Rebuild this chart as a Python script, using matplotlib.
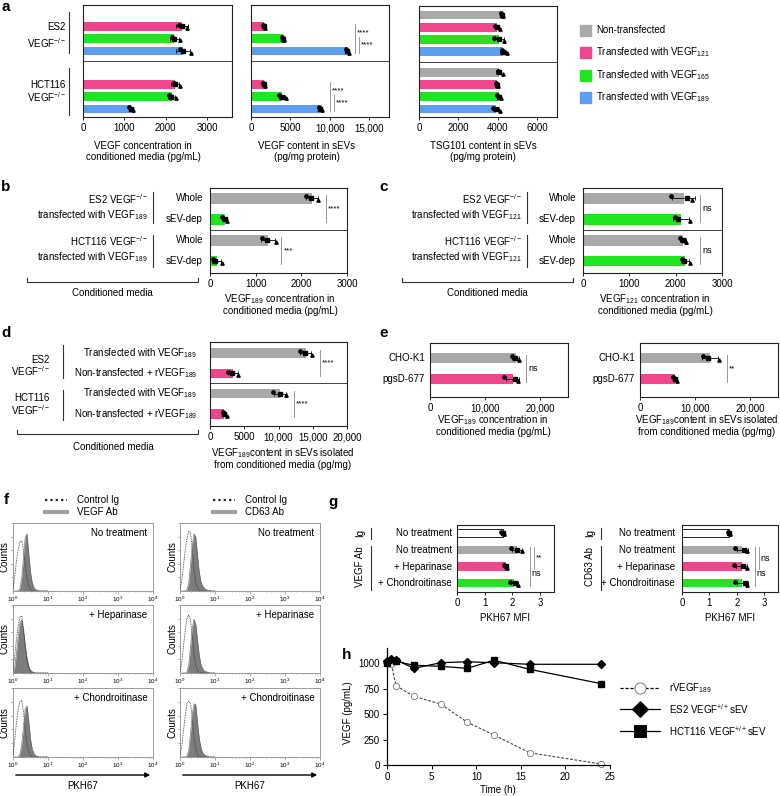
import numpy as np
import matplotlib
matplotlib.use("Agg")
import matplotlib.pyplot as plt
from matplotlib.lines import Line2D
from matplotlib.patches import Rectangle, FancyArrowPatch

plt.rcParams['font.family'] = ['Liberation Sans', 'DejaVu Sans']
plt.rcParams['mathtext.fontset'] = 'custom'
plt.rcParams['mathtext.rm'] = 'Liberation Sans'
plt.rcParams['mathtext.it'] = 'Liberation Sans:italic'
plt.rcParams['mathtext.bf'] = 'Liberation Sans:bold'
plt.rcParams['font.size'] = 7

GRAY = '#a9a9a9'
PINK = '#f0468e'
GREEN = '#1fe61f'
BLUE = '#5c9ff0'

# ---------------- data ----------------
# panel a (rows per cell line: non-transfected, VEGF121, VEGF165, VEGF189)
a_groups = ["ES2", "HCT116"]
a_series = ["Non-transfected", "Transfected with VEGF$_{121}$",
            "Transfected with VEGF$_{165}$", "Transfected with VEGF$_{189}$"]
a1_mean = [np.nan, 2390, 2200, 2420, np.nan, 2230, 2140, 1150]
a1_sd = [0, 140, 110, 170, 0, 100, 90, 50]
a1_pts = [[], [2330, 2390, 2520], [2150, 2190, 2350], [2350, 2420, 2600],
          [], [2190, 2230, 2350], [2080, 2120, 2240], [1100, 1150, 1210]]
a2_mean = [np.nan, 1650, 4050, 12200, np.nan, 1650, 3950, 8800]
a2_sd = [0, 100, 120, 200, 0, 100, 350, 150]
a2_pts = [[], [1550, 1650, 1750], [3950, 4050, 4200], [12000, 12200, 12400],
          [], [1550, 1650, 1750], [3600, 3950, 4400], [8650, 8800, 8950]]
a2_sig = [(13150, 1, 3, 0.5, '****'), (13650, 2, 3, 0.5, '****'),
          (9970, 5, 7, 0.5, '****'), (10480, 6, 7, 0.5, '****')]
a3_mean = [4200, 3950, 4050, 4250, 4050, 3950, 4050, 3900]
a3_sd = [40, 100, 250, 140, 120, 50, 100, 150]
a3_pts = [[4150, 4200, 4250], [3880, 3950, 4120], [3780, 4070, 4320], [4200, 4250, 4450],
          [3990, 4050, 4250], [3900, 3950, 4000], [3950, 4050, 4150], [3750, 3900, 4100]]

# panel b / c
bc_rows = ["Whole", "sEV-dep", "Whole", "sEV-dep"]
b_mean = [2230, 320, 1270, 145]
b_sd = [130, 50, 160, 95]
b_pts = [[2110, 2220, 2360], [255, 330, 365], [1130, 1240, 1450], [75, 110, 255]]
b_sig = [(2545, 0, 1, 0.5, '****'), (1560, 2, 3, 0.5, '***')]
c_mean = [2170, 2110, 2160, 2200]
c_sd = [240, 170, 60, 80]
c_pts = [[1910, 2240, 2350], [1990, 2040, 2310], [2100, 2150, 2230], [2130, 2170, 2300]]
c_sig = [(2530, 0, 1, 0.5, 'ns'), (2530, 2, 3, 0.5, 'ns')]

# panel d
d_rows = ["Transfected with VEGF$_{189}$", "Non-transfected + rVEGF$_{189}$",
          "Transfected with VEGF$_{189}$", "Non-transfected + rVEGF$_{189}$"]
d_mean = [13950, 3350, 10200, 2100]
d_sd = [800, 700, 900, 200]
d_pts = [[13170, 13900, 14880], [2680, 3170, 4150], [9270, 10240, 11120], [1850, 2050, 2440]]
d_sig = [(16000, 0, 1, 0.5, '****'), (12200, 2, 3, 0.5, '****')]

# panel e
e_rows = ["CHO-K1", "pgsD-677"]
e1_mean = [15500, 14950]
e1_sd = [600, 1100]
e1_pts = [[14800, 15400, 16120], [13430, 15400, 16000]]
e1_sig = [(17430, 0, 1, 0.5, 'ns')]
e2_mean = [12700, 6300]
e2_sd = [1400, 350]
e2_pts = [[11460, 12240, 14330], [5970, 6270, 6750]]
e2_sig = [(15700, 0, 1, 0.5, '**')]

# panel f: histogram counts on a log10(PKH67) grid
hist_log = [0.00, 0.05, 0.10, 0.15, 0.20, 0.25, 0.30, 0.35, 0.40, 0.45, 0.50,
            0.55, 0.60, 0.65, 0.70, 0.75, 0.80, 0.85, 0.90, 0.95, 1.00]
f_treat = ["No treatment", "+ Heparinase", "+ Chondroitinase"]
vegf_ctrl = [
    [0.03, 0.22, 0.45, 0.62, 0.72, 0.74, 0.60, 0.38, 0.18, 0.07, 0.02, 0, 0, 0, 0, 0, 0, 0, 0, 0, 0],
    [0.03, 0.25, 0.50, 0.70, 0.82, 0.84, 0.66, 0.40, 0.18, 0.07, 0.02, 0, 0, 0, 0, 0, 0, 0, 0, 0, 0],
    [0.03, 0.25, 0.50, 0.70, 0.80, 0.82, 0.65, 0.40, 0.18, 0.07, 0.02, 0, 0, 0, 0, 0, 0, 0, 0, 0, 0]]
vegf_ab = [
    [0, 0, 0, 0, 0.04, 0.20, 0.50, 0.80, 0.84, 0.55, 0.28, 0.12, 0.05, 0.02, 0.01, 0, 0, 0, 0, 0, 0],
    [0.01, 0.08, 0.30, 0.55, 0.74, 0.78, 0.62, 0.40, 0.22, 0.10, 0.04, 0.02, 0.01, 0, 0, 0, 0, 0, 0, 0, 0],
    [0, 0, 0, 0, 0.04, 0.18, 0.45, 0.70, 0.74, 0.52, 0.26, 0.11, 0.05, 0.02, 0.01, 0, 0, 0, 0, 0, 0]]
cd63_ctrl = [
    [0.02, 0.15, 0.38, 0.60, 0.78, 0.88, 0.86, 0.62, 0.32, 0.13, 0.04, 0.01, 0, 0, 0, 0, 0, 0, 0, 0, 0],
    [0.02, 0.16, 0.40, 0.62, 0.80, 0.85, 0.78, 0.55, 0.28, 0.11, 0.03, 0.01, 0, 0, 0, 0, 0, 0, 0, 0, 0],
    [0.02, 0.15, 0.38, 0.60, 0.77, 0.81, 0.78, 0.56, 0.29, 0.11, 0.03, 0.01, 0, 0, 0, 0, 0, 0, 0, 0, 0]]
cd63_ab = [
    [0, 0, 0, 0, 0.02, 0.12, 0.38, 0.68, 0.84, 0.80, 0.52, 0.28, 0.13, 0.07, 0.04, 0.02, 0.01, 0.01, 0, 0, 0],
    [0, 0, 0, 0, 0.02, 0.12, 0.38, 0.66, 0.79, 0.72, 0.48, 0.26, 0.12, 0.06, 0.03, 0.02, 0.01, 0, 0, 0, 0],
    [0, 0, 0, 0, 0.02, 0.10, 0.34, 0.62, 0.77, 0.76, 0.50, 0.27, 0.13, 0.06, 0.03, 0.02, 0.01, 0, 0, 0, 0]]

# panel g
g_rows = ["No treatment", "No treatment", "+ Heparinase", "+ Chondroitinase"]
g1_mean = [1.65, 2.15, 1.75, 2.07]
g1_sd = [0.05, 0.18, 0.05, 0.13]
g1_pts = [[1.60, 1.65, 1.70], [1.96, 2.16, 2.35], [1.70, 1.75, 1.80], [1.92, 2.08, 2.20]]
g1_sig = [(2.77, 1, 2, 0.5, '**'), (2.62, 1, 3, 1.4, 'ns')]
g2_mean = [1.70, 2.20, 2.17, 2.20]
g2_sd = [0.04, 0.20, 0.20, 0.20]
g2_pts = [[1.66, 1.70, 1.75], [1.95, 2.26, 2.38], [1.90, 2.24, 2.36], [1.95, 2.28, 2.38]]
g2_sig = [(2.80, 1, 2, 0.5, 'ns'), (2.65, 1, 3, 1.4, 'ns')]

# panel h
h_t_r = [0, 0.5, 1, 3, 6, 9, 12, 16, 24]
h_v_r = [1000, 990, 780, 675, 600, 420, 295, 120, 10]
h_t_es2 = [0, 0.5, 1, 3, 6, 9, 12, 16, 24]
h_v_es2 = [1020, 1040, 1035, 950, 1005, 1015, 1005, 990, 990]
h_t_hct = [0, 1, 3, 6, 9, 12, 16, 24]
h_v_hct = [1000, 1020, 980, 970, 950, 1030, 940, 800]

# ---------------- figure ----------------
W, H = 780, 796
fig = plt.figure(figsize=(W / 100, H / 100), dpi=100)


def add_ax(l, t, r, b):
    return fig.add_axes([l / W, 1 - b / H, (r - l) / W, (b - t) / H])


def ftext(x, y, s, **kw):
    kw.setdefault('va', 'center')
    return fig.text(x / W, 1 - y / H, s, **kw)


def fline(xs, ys, **kw):
    kw.setdefault('color', '#333333')
    kw.setdefault('lw', 0.8)
    fig.add_artist(Line2D([x / W for x in xs], [1 - y / H for y in ys], **kw))


JIT = [-0.17, 0.0, 0.17]
MK = ['o', 's', '^']


def bar_panel(rect, pos, means, sds, pts, colors, xlim, xticks, xticklabels, ylim,
              bar_h, sigs=(), dividers=()):
    ax = add_ax(*rect)
    for p, m, s, pt, c in zip(pos, means, sds, pts, colors):
        if np.isnan(m):
            continue
        white = (c == 'white')
        ax.barh(p, m, height=bar_h, color=c, edgecolor='k' if white else 'none',
                linewidth=0.6 if white else 0, zorder=2)
        ax.errorbar(m, p, xerr=s, fmt='none', ecolor='k', elinewidth=0.6,
                    capsize=1.6, capthick=0.6, zorder=3)
        for k, v in enumerate(pt):
            ax.plot(v, p + JIT[k] * bar_h, marker=MK[k], ms=2.4, color='k', ls='none', zorder=4)
    for dv in dividers:
        ax.axhline(dv, color='#444444', lw=0.7, zorder=1)
    for x, r0, r1, off, txt in sigs:
        ax.plot([x, x], [pos[r0] - 0.15, pos[r1] + 0.15], color='#888888', lw=0.6)
        ax.annotate(txt, (x, pos[r0] + off), xytext=(1.5, 0), textcoords='offset points',
                    va='center', ha='left', fontsize=5.8 if '*' in txt else 6.5)
    ax.set_xlim(xlim)
    ax.set_ylim(ylim)
    ax.set_yticks([])
    ax.set_xticks(xticks, xticklabels)
    ax.tick_params(axis='x', length=2.5, width=0.6, pad=2, labelsize=7)
    for sp in ax.spines.values():
        sp.set_linewidth(0.8)
        sp.set_color('#222222')
    return ax


def letter(x, y, s):
    ftext(x, y, s, ha='center', fontsize=11, fontweight='bold')


# ---- panel a ----
a_pos = [0, 1, 2, 3, 4.7, 5.7, 6.7, 7.7]
a_col = [GRAY, PINK, GREEN, BLUE] * 2
a_ylim = (8.35, -0.73)
bar_panel((83, 5, 232, 117), a_pos, a1_mean, a1_sd, a1_pts, a_col, (0, 3600),
          [0, 1000, 2000, 3000], ['0', '1000', '2000', '3000'], a_ylim, 0.72, dividers=[3.85])
bar_panel((251, 5, 389, 117), a_pos, a2_mean, a2_sd, a2_pts, a_col, (0, 17500),
          [0, 5000, 10000, 15000], ['0', '5000', '10,000', '15,000'], a_ylim, 0.72,
          sigs=a2_sig, dividers=[3.85])
bar_panel((419, 6, 557, 117), a_pos, a3_mean, a3_sd, a3_pts, a_col, (0, 7000),
          [0, 2000, 4000, 6000], ['0', '2000', '4000', '6000'], a_ylim, 0.72, dividers=[3.85])
letter(6, 7, 'a')
ftext(66, 27, a_groups[0], ha='right')
ftext(66, 43, "VEGF$^{-/-}$", ha='right')
fline([69, 69], [12, 53])
ftext(66, 85, a_groups[1], ha='right')
ftext(66, 97, "VEGF$^{-/-}$", ha='right')
fline([69, 69], [68, 115])
for x, l1, l2 in [(143, "VEGF concentration in", "conditioned media (pg/mL)"),
                  (307, "VEGF content in sEVs", "(pg/mg protein)"),
                  (483, "TSG101 content in sEVs", "(pg/mg protein)")]:
    ftext(x, 146, l1, ha='center')
    ftext(x, 157, l2, ha='center')
for i, (lab, col) in enumerate(zip(a_series, [GRAY, PINK, GREEN, BLUE])):
    y = [30, 52, 75, 97][i]
    fig.add_artist(Rectangle((580 / W, 1 - (y + 5.5) / H), 11 / W, 11 / H, color=col,
                             transform=fig.transFigure))
    ftext(596, y, lab, ha='left')

# ---- panels b, c ----
bc_pos = [0, 1, 2, 3]
bc_ylim = (3.57, -0.48)
bar_panel((210, 188, 347, 273), bc_pos, b_mean, b_sd, b_pts, [GRAY, GREEN, GRAY, GREEN],
          (0, 3000), [0, 1000, 2000, 3000], ['0', '1000', '2000', '3000'], bc_ylim, 0.52,
          sigs=b_sig, dividers=[1.5])
bar_panel((583, 188, 722, 273), bc_pos, c_mean, c_sd, c_pts, [GRAY, GREEN, GRAY, GREEN],
          (0, 3000), [0, 1000, 2000, 3000], ['0', '1000', '2000', '3000'], bc_ylim, 0.52,
          sigs=c_sig, dividers=[1.5])
letter(6, 187, 'b')
letter(384, 187, 'c')
for x0, rl, gx, sub, bl, bx in [(0, 203, 148, '189', (27, 198), 112),
                                (373, 576, 522, '121', (402, 573), 487)]:
    for lab, y in zip(bc_rows, [198, 219, 240, 261]):
        ftext(rl, y, lab, ha='right')
    ftext(gx, 199, "ES2 VEGF$^{-/-}$", ha='right')
    ftext(gx, 215, "transfected with VEGF$_{%s}$" % sub, ha='right')
    ftext(gx, 241, "HCT116 VEGF$^{-/-}$", ha='right')
    ftext(gx, 257, "transfected with VEGF$_{%s}$" % sub, ha='right')
    fline([gx + 5, gx + 5], [192, 223])
    fline([gx + 5, gx + 5], [235, 267])
    fline([bl[0], bl[0], bl[1], bl[1]], [278, 282, 282, 278])
    ftext(bx, 293, "Conditioned media", ha='center')
ftext(280, 299, "VEGF$_{189}$ concentration in", ha='center')
ftext(280, 311, "conditioned media (pg/mL)", ha='center')
ftext(655, 299, "VEGF$_{121}$ concentration in", ha='center')
ftext(655, 311, "conditioned media (pg/mL)", ha='center')

# ---- panel d ----
bar_panel((210, 342, 347, 426), [0, 1, 2, 3], d_mean, d_sd, d_pts, [GRAY, PINK, GRAY, PINK],
          (0, 20000), [0, 5000, 10000, 15000, 20000],
          ['0', '5000', '10,000', '15,000', '20,000'], (3.59, -0.54), 0.45,
          sigs=d_sig, dividers=[1.5])
letter(6, 333, 'd')
for lab, y in zip(d_rows, [353, 373, 393, 414]):
    ftext(197, y, lab, ha='right')
ftext(50, 360, "ES2", ha='right')
ftext(50, 371, "VEGF$^{-/-}$", ha='right')
ftext(50, 398, "HCT116", ha='right')
ftext(50, 410, "VEGF$^{-/-}$", ha='right')
fline([63, 63], [345, 378])
fline([63, 63], [390, 420])
fline([17, 17, 198, 198], [430, 434, 434, 430])
ftext(113, 447, "Conditioned media", ha='center')
ftext(283, 453, "VEGF$_{189}$content in sEVs isolated", ha='center')
ftext(283, 465, "from conditioned media (pg/mg)", ha='center')

# ---- panel e ----
e_ylim = (1.86, -0.71)
bar_panel((430, 343, 568, 397), [0, 1], e1_mean, e1_sd, e1_pts, [GRAY, PINK],
          (0, 25000), [0, 10000, 20000], ['0', '10,000', '20,000'], e_ylim, 0.5, sigs=e1_sig)
bar_panel((640, 343, 778, 397), [0, 1], e2_mean, e2_sd, e2_pts, [GRAY, PINK],
          (0, 25000), [0, 10000, 20000], ['0', '10,000', '20,000'], e_ylim, 0.5, sigs=e2_sig)
letter(384, 333, 'e')
for rx in (425, 635):
    ftext(rx, 358, e_rows[0], ha='right')
    ftext(rx, 379, e_rows[1], ha='right')
ftext(493, 420, "VEGF$_{189}$ concentration in", ha='center')
ftext(493, 432, "conditioned media (pg/mL)", ha='center')
ftext(707, 420, "VEGF$_{189}$content in sEVs isolated", ha='center')
ftext(707, 432, "from conditioned media (pg/mg)", ha='center')

# ---- panel f ----
letter(6, 500, 'f')
hx = 10 ** np.asarray(hist_log)
hist_rows = [(523, 591), (605, 673), (688, 757)]
for (l, r, ab_name, ctrl_sets, ab_sets, lx) in [(13, 153, "VEGF Ab", vegf_ctrl, vegf_ab, 45),
                                                (180, 320, "CD63 Ab", cd63_ctrl, cd63_ab, 213)]:
    fline([lx, lx + 22], [500, 500], color='#222222', lw=1.6, ls=(0, (1, 1.4)))
    ftext(lx + 32, 500, "Control Ig", ha='left')
    fline([lx, lx + 22], [512, 512], color='#a0a0a0', lw=3)
    ftext(lx + 32, 512, ab_name, ha='left')
    for i, (t, b) in enumerate(hist_rows):
        ax = add_ax(l, t, r, b)
        ax.fill_between(hx, ab_sets[i], color='#7d7d7d', lw=0, zorder=1)
        ax.plot(hx, ab_sets[i], color='#606060', lw=0.4, zorder=2)
        ax.plot(hx, ctrl_sets[i], color='#333333', lw=0.6, ls=(0, (1, 1)), zorder=3)
        ax.set_xscale('log')
        ax.set_xlim(1, 1e4)
        ax.set_ylim(0, 1)
        ax.set_yticks([0.2, 0.4, 0.6, 0.8, 1.0], [])
        ax.tick_params(axis='y', length=1.5, width=0.5, color='#888888')
        ax.tick_params(axis='x', which='major', length=2, width=0.5, color='#888888',
                       labelsize=4.5, pad=1)
        ax.tick_params(axis='x', which='minor', length=1, width=0.4, color='#888888')
        for sp in ax.spines.values():
            sp.set_linewidth(0.7)
            sp.set_color('#9a9a9a')
        ax.text(0.96, 0.86, f_treat[i], transform=ax.transAxes, ha='right', va='center', fontsize=7)
        ftext(l - 8, (t + b) / 2, "Counts", ha='center', rotation=90)
    fig.add_artist(FancyArrowPatch((l / W, 1 - 775 / H), (r / W, 1 - 775 / H),
                                   transform=fig.transFigure, arrowstyle='-|>',
                                   mutation_scale=7, lw=1.0, color='k'))
    ftext((l + r) / 2, 786, "PKH67", ha='center')

# ---- panel g ----
letter(333, 502, 'g')
g_pos = [0, 1, 2, 3]
g_ylim = (3.53, -0.48)
g_col = ['white', GRAY, PINK, GREEN]
bar_panel((457, 525, 554, 592), g_pos, g1_mean, g1_sd, g1_pts, g_col, (0, 3.5),
          [0, 1, 2, 3], ['0', '1', '2', '3'], g_ylim, 0.5, sigs=g1_sig)
bar_panel((682, 525, 778, 592), g_pos, g2_mean, g2_sd, g2_pts, g_col, (0, 3.5),
          [0, 1, 2, 3], ['0', '1', '2', '3'], g_ylim, 0.5, sigs=g2_sig)
for rx, gx, ab_name in [(452, 360, "VEGF Ab"), (675, 590, "CD63 Ab")]:
    for lab, y in zip(g_rows, [533, 550, 567, 583]):
        ftext(rx, y, lab, ha='right')
    ftext(gx, 533, "Ig", ha='center', rotation=90)
    ftext(gx, 567, ab_name, ha='center', rotation=90)
    fline([gx + 11, gx + 11], [528, 539])
    fline([gx + 11, gx + 11], [546, 590])
ftext(505, 618, "PKH67 MFI", ha='center')
ftext(730, 618, "PKH67 MFI", ha='center')

# ---- panel h ----
letter(347, 655, 'h')
axh = add_ax(387, 648, 610, 765)
axh.plot(h_t_r, h_v_r, ls=(0, (2.5, 1.5)), color='#444444', lw=0.8, marker='o', ms=4.5,
         mfc='white', mec='#777777', mew=0.6, clip_on=False, zorder=2)
axh.plot(h_t_hct, h_v_hct, '-', color='k', lw=0.9, marker='s', ms=3.8, clip_on=False, zorder=3)
axh.plot(h_t_es2, h_v_es2, '-', color='k', lw=0.9, marker='D', ms=3.8, clip_on=False, zorder=4)
axh.set_xlim(0, 25)
axh.set_ylim(0, 1150)
axh.set_xticks([0, 5, 10, 15, 20, 25])
axh.set_yticks([0, 250, 500, 750, 1000])
axh.spines['top'].set_visible(False)
axh.spines['right'].set_visible(False)
for sp in ('left', 'bottom'):
    axh.spines[sp].set_linewidth(0.9)
axh.tick_params(length=3, width=0.7, labelsize=7, pad=2)
ftext(348, 713, "VEGF (pg/mL)", ha='center', rotation=90)
ftext(498, 790, "Time (h)", ha='center')
for y, ls, mk, mfc, mec, lab in [(688, (0, (2.5, 1.5)), 'o', 'white', '#777777', "rVEGF$_{189}$"),
                                 (709, '-', 'D', 'k', 'k', "ES2 VEGF$^{+/+}$sEV"),
                                 (731, '-', 's', 'k', 'k', "HCT116 VEGF$^{+/+}$sEV")]:
    fline([620, 660], [y, y], color='k', lw=0.9, ls=ls)
    fig.add_artist(Line2D([640 / W], [1 - y / H], marker=mk, ms=8, mfc=mfc, mec=mec,
                          mew=0.7, ls='none'))
    ftext(669, y, lab, ha='left')

fig.savefig("out.png", dpi=100)
